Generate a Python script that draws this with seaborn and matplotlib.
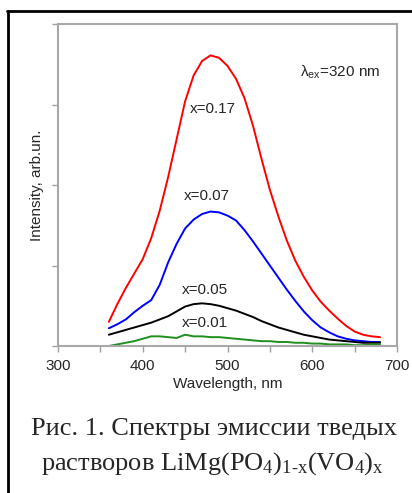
"""Спектры эмиссии LiMg(PO4)1-x(VO4)x, рисунок в стиле статьи"""
import matplotlib
matplotlib.use("Agg")
import matplotlib.pyplot as plt
from matplotlib.lines import Line2D
from matplotlib.ticker import MultipleLocator
import seaborn as sn
import pandas as pd

sn.set_style("white")
plt.rcParams.update({
    "font.family": ["Liberation Sans", "DejaVu Sans"],
    "mathtext.fontset": "custom",
    "mathtext.rm": "Liberation Serif",
    "mathtext.it": "Liberation Serif:italic",
    "mathtext.sf": "Liberation Sans",
})

# длины волн, нм
wavelength = [360, 370, 380, 390, 400, 410, 420, 430, 440, 450, 460,
              470, 480, 490, 500, 510, 520, 530, 540, 550, 560, 570,
              580, 590, 600, 610, 620, 630, 640, 650, 660, 670, 680]

# интенсивность, отн. ед.
x017 = [0.30, 0.52, 0.72, 0.90, 1.08, 1.34, 1.68, 2.10, 2.57, 3.04, 3.36,
        3.54, 3.61, 3.58, 3.48, 3.32, 3.08, 2.74, 2.33, 1.94, 1.61, 1.31,
        1.06, 0.86, 0.69, 0.55, 0.44, 0.34, 0.25, 0.18, 0.14, 0.12, 0.11]
x007 = [0.22, 0.27, 0.33, 0.42, 0.50, 0.57, 0.76, 1.04, 1.27, 1.46, 1.57,
        1.64, 1.67, 1.66, 1.62, 1.56, 1.44, 1.30, 1.15, 1.00, 0.85, 0.70,
        0.56, 0.43, 0.32, 0.23, 0.17, 0.12, 0.09, 0.07, 0.06, 0.05, 0.05]
x005 = [0.14, 0.17, 0.20, 0.23, 0.26, 0.29, 0.33, 0.37, 0.43, 0.49, 0.52,
        0.53, 0.52, 0.50, 0.47, 0.44, 0.40, 0.36, 0.31, 0.27, 0.23, 0.20,
        0.17, 0.14, 0.12, 0.10, 0.08, 0.07, 0.06, 0.05, 0.04, 0.04, 0.04]
x001 = [0.00, 0.02, 0.04, 0.06, 0.09, 0.12, 0.12, 0.11, 0.10, 0.14, 0.12,
        0.12, 0.11, 0.11, 0.10, 0.09, 0.08, 0.07, 0.06, 0.06, 0.05, 0.05,
        0.04, 0.04, 0.03, 0.03, 0.02, 0.02, 0.02, 0.01, 0.01, 0.02, 0.02]

series_names = ["x=0.17", "x=0.07", "x=0.05", "x=0.01"]
series_vals = [x017, x007, x005, x001]
colores = ["#ff0000", "#0000ff", "#000000", "#1f8f1f"]
# позиции подписей (длина волны, интенсивность)
label_pos = [(483, 2.94), (476, 1.86), (473, 0.70), (473, 0.29)]

df = pd.DataFrame({"wavelength": wavelength})
for name, vals in zip(series_names, series_vals):
    df[name] = vals

fig = plt.figure(figsize=(4.12, 4.93), dpi=100)
ax = fig.add_axes([58 / 412, 1 - 346 / 493, 339 / 412, 322 / 493])

for name, col in zip(series_names, colores):
    sn.lineplot(data=df, x="wavelength", y=name, color=col, lw=1.4, ax=ax)

for name, (lx, ly) in zip(series_names, label_pos):
    ax.text(lx, ly, name, fontsize=11, ha="center", va="center")

ax.text(633, 3.40, r"$\mathsf{\lambda_{ex}}$=320 nm", fontsize=11,
        ha="center", va="center")

ax.set_xlim(300, 700)
ax.set_ylim(0, 4)
ax.xaxis.set_major_locator(MultipleLocator(100))
ax.xaxis.set_minor_locator(MultipleLocator(50))
ax.yaxis.set_major_locator(MultipleLocator(1))
ax.set_yticklabels([])
ax.tick_params(axis="both", which="both", direction="out", length=4,
               width=1, color="#a0a0a0", labelsize=11, pad=5,
               left=True, bottom=True)
ax.set_xlabel("Wavelength, nm", fontsize=11, labelpad=3)
ax.set_ylabel("Intensity, arb.un.", fontsize=11, labelpad=1)
for sp in ax.spines.values():
    sp.set_color("#a8a8a8")
    sp.set_linewidth(1.5)

# рамка вокруг рисунка (слева и сверху)
fig.add_artist(Line2D([8 / 412, 8 / 412], [0, 1 - 11 / 493], color="black",
                      lw=2, transform=fig.transFigure))
fig.add_artist(Line2D([7 / 412, 1], [1 - 11 / 493, 1 - 11 / 493], color="black",
                      lw=2, transform=fig.transFigure))

# подпись к рисунку
fig.text(0.52, 1 - 435 / 493, "Рис. 1. Спектры эмиссии тведых",
         fontsize=19, family="Liberation Serif", ha="center", va="baseline")
fig.text(0.515, 1 - 470 / 493,
         r"растворов LiMg(PO$_4$)$_{\mathrm{1\text{-}x}}$(VO$_4$)$_\mathrm{x}$",
         fontsize=19, family="Liberation Serif", ha="center", va="baseline")

fig.savefig("out.png", dpi=100)
